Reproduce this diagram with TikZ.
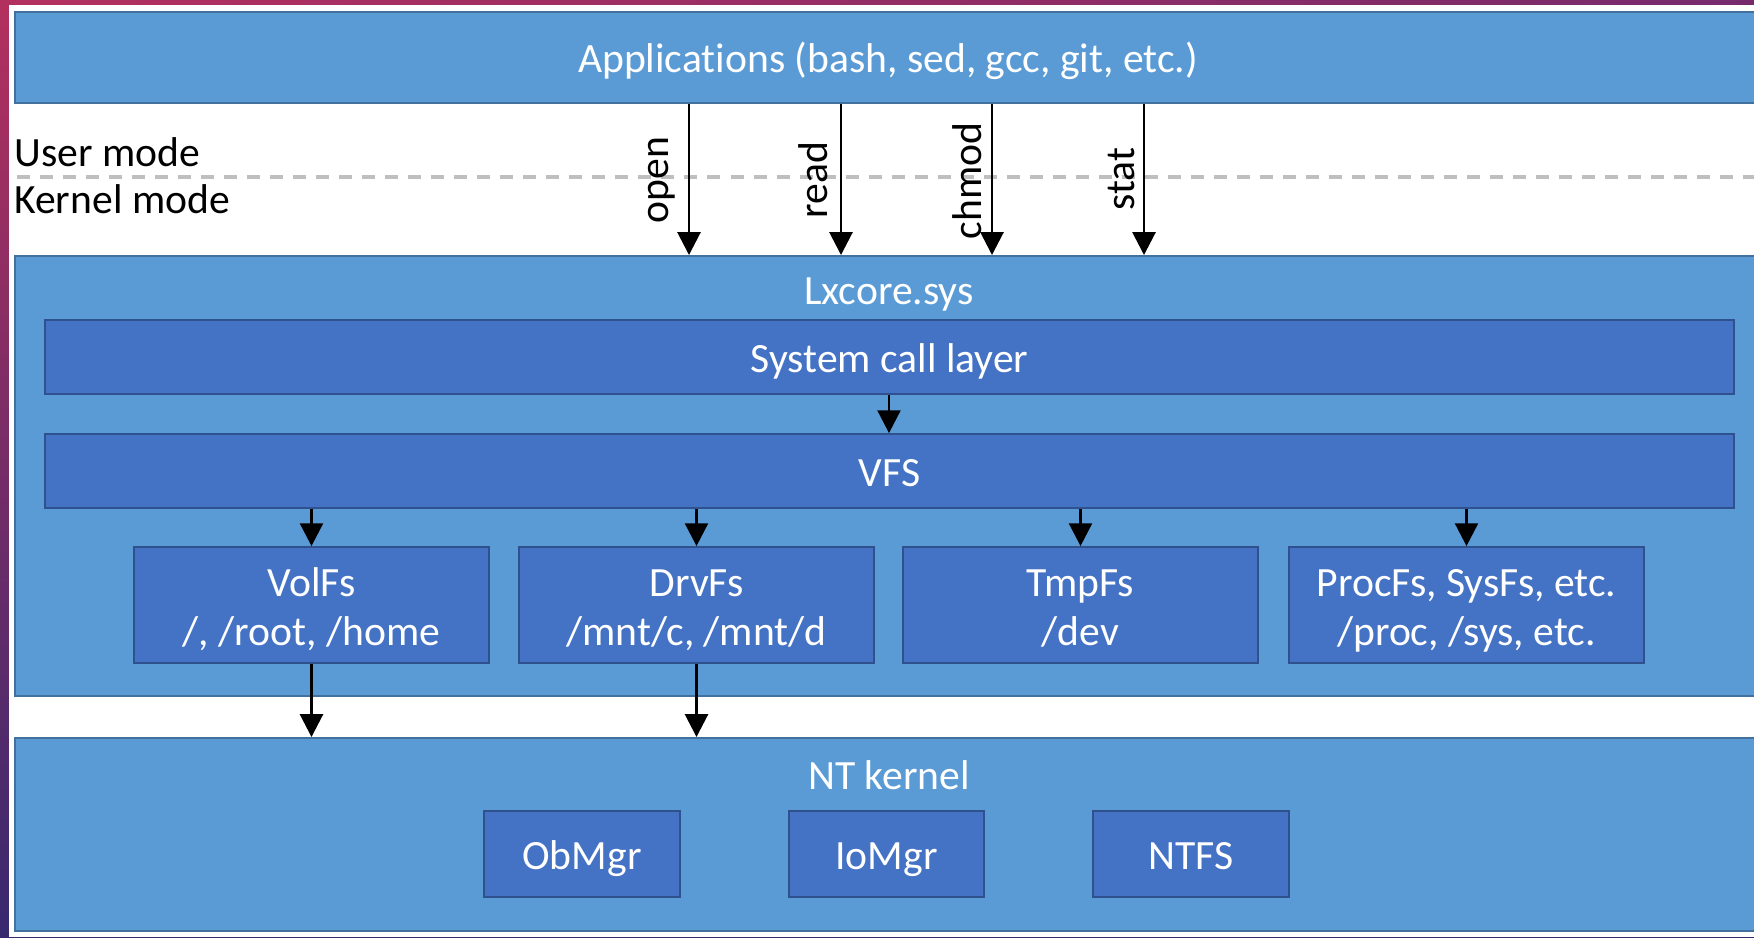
\documentclass[tikz,border=0pt]{standalone}
\usepackage{fontspec}
\setmainfont[Ligatures=NoCommon]{Carlito}
\usetikzlibrary{fit,arrows.meta,shadings}
\definecolor{outerfill}{HTML}{5B9BD5}
\definecolor{outerdraw}{HTML}{41719C}
\definecolor{innerfill}{HTML}{4472C4}
\definecolor{innerdraw}{HTML}{2F528F}
\definecolor{bgUL}{HTML}{B3305E}
\definecolor{bgUR}{HTML}{762A6C}
\definecolor{bgLL}{HTML}{38296F}
\definecolor{bgLR}{HTML}{3A2A6E}
\definecolor{dashgray}{HTML}{BFBFBF}
\begin{document}
\begin{tikzpicture}[x=0.02cm,y=-0.02cm,
  font=\fontsize{23.7}{28}\selectfont,
  outerbox/.style={draw=outerdraw, fill=outerfill, line width=1.1pt, inner sep=0pt},
  innerbox/.style={draw=innerdraw, fill=innerfill, line width=1pt, inner sep=0pt},
  onetext/.style={text=white, inner sep=0pt, anchor=base, yshift=-8.6pt},
  twotext/.style={text=white, align=center, inner sep=0pt, anchor=base, yshift=-23pt},
  arr/.style={line width=1.6pt, -{Triangle[width=13pt,length=13pt]}},
  calllabel/.style={rotate=90, anchor=base, inner sep=0pt, text=black},
  modelabel/.style={anchor=base west, inner sep=0pt, text=black},
  dashline/.style={draw=dashgray, line width=2.1pt, dash pattern=on 7.4pt off 5.7pt}]
\useasboundingbox (0,0) rectangle (1754,937);
\clip (0,0) rectangle (1754,937);
\shade[upper left=bgUL, upper right=bgUR, lower left=bgLL, lower right=bgLR] (0,0) rectangle (1754,937);
\fill[white] (9,5) rectangle (1754,937);

% dashed user/kernel boundary
\coordinate (dl) at (17,177);
\coordinate (dr) at (1754,177);
\draw[dashline] (dl) -- (dr);
\node[modelabel] (um) at (14,166) {User mode};
\node[modelabel] (km) at (14,213) {Kernel mode};

% outer boxes
\node[outerbox, fit={(15,12) (1761,103)}] (apps) {};
\node[onetext] (appst) at (apps.center) {Applications (bash, sed, gcc, git, etc.)};
\node[outerbox, fit={(15,256) (1761,696)}] (lx) {};
\node[outerbox, fit={(15,738) (1761,931)}] (nt) {};
\node[anchor=base, text=white, inner sep=0pt] (lxt) at (889,304) {Lxcore.sys};
\node[anchor=base, text=white, inner sep=0pt] (ntt) at (889,789) {NT kernel};

% inner boxes
\node[innerbox, fit={(45,320) (1734,394)}] (sys) {};
\node[onetext] at (sys.center) {System call layer};
\node[innerbox, fit={(45,434) (1734,508)}] (vfs) {};
\node[onetext] at (vfs.center) {VFS};
\node[innerbox, fit={(134,547) (489,663)}] (vol) {};
\node[twotext] at (vol.center) {VolFs\\/, /root, /home};
\node[innerbox, fit={(519,547) (874,663)}] (drv) {};
\node[twotext] at (drv.center) {DrvFs\\/mnt/c, /mnt/d};
\node[innerbox, fit={(903,547) (1258,663)}] (tmp) {};
\node[twotext] at (tmp.center) {TmpFs\\/dev};
\node[innerbox, fit={(1289,547) (1644,663)}] (proc) {};
\node[twotext] at (proc.center) {ProcFs, SysFs, etc.\\/proc, /sys, etc.};
\node[innerbox, fit={(484,811) (680,897)}] (ob) {};
\node[onetext] at (ob.center) {ObMgr};
\node[innerbox, fit={(789,811) (984,897)}] (io) {};
\node[onetext] at (io.center) {IoMgr};
\node[innerbox, fit={(1093,811) (1289,897)}] (ntfs) {};
\node[onetext] at (ntfs.center) {NTFS};

% system calls
\coordinate (xopen) at (689,0);
\coordinate (xread) at (841,0);
\coordinate (xchmod) at (992,0);
\coordinate (xstat) at (1144,0);
\draw[arr] (apps.south -| xopen) -- (lx.north -| xopen);
\draw[arr] (apps.south -| xread) -- (lx.north -| xread);
\draw[arr] (apps.south -| xchmod) -- (lx.north -| xchmod);
\draw[arr] (apps.south -| xstat) -- (lx.north -| xstat);
\node[calllabel] (lopen) at (668,180) {open};
\node[calllabel] (lread) at (827,180) {read};
\node[calllabel] (lchmod) at (981,181) {chmod};
\node[calllabel] (lstat) at (1134,179) {stat};

% inside Lxcore
\coordinate (xsv) at (889,0);
\draw[arr] (sys.south -| xsv) -- (vfs.north -| xsv);
\draw[arr] (vfs.south -| vol.north) -- (vol.north);
\draw[arr] (vfs.south -| drv.north) -- (drv.north);
\draw[arr] (vfs.south -| tmp.north) -- (tmp.north);
\draw[arr] (vfs.south -| proc.north) -- (proc.north);

% to NT kernel
\draw[arr] (vol.south) -- (vol.south |- nt.north);
\draw[arr] (drv.south) -- (drv.south |- nt.north);
\end{tikzpicture}
\end{document}
